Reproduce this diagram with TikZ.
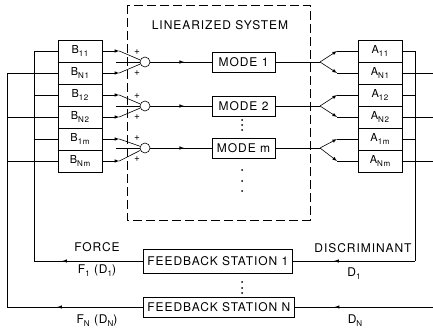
\documentclass[tikz,border=0pt]{standalone}
\usepackage{fontspec}
\newfontfamily\lettering[LetterSpace=8]{TeX Gyre Heros}
\usetikzlibrary{decorations.markings}

\newcommand{\lowidx}[1]{\raisebox{-0.5ex}{\fontsize{8}{9}\selectfont #1}}

\tikzset{
    gain/.style={draw, rectangle, minimum width=44, minimum height=22, inner sep=0pt,
        font=\lettering\fontsize{11}{12}\selectfont},
    modebox/.style={draw, rectangle, minimum width=63, minimum height=20, inner sep=0pt},
    station/.style={draw, rectangle, anchor=west, inner xsep=4pt, inner ysep=0pt},
    sumpt/.style={draw, circle, minimum size=10, inner sep=0pt},
    plus/.style={inner sep=0pt, font=\lettering\fontsize{10}{11}\selectfont},
    midarrow/.style={postaction={decorate},
        decoration={markings, mark=at position #1 with {\arrow{latex}}}}
}

\begin{document}
\begin{tikzpicture}[x=1pt, y=-1pt, line width=0.6pt,
    every node/.style={font=\lettering\fontsize{12}{14}\selectfont}]
    \useasboundingbox (0,0) rectangle (433,334);

    % linearized system
    \draw[dash pattern=on 9pt off 4pt] (127,5) rectangle (310,220);
    \node (sys) at (220,25) {LINEARIZED SYSTEM};

    \node[gain] (b11) at (80,51) {B\lowidx{11}};
    \node[gain] (bn1) at (80,73) {B\lowidx{N1}};
    \node[gain] (b12) at (80,95) {B\lowidx{12}};
    \node[gain] (bn2) at (80,117) {B\lowidx{N2}};
    \node[gain] (b1m) at (80,139) {B\lowidx{1m}};
    \node[gain] (bnm) at (80,161) {B\lowidx{Nm}};

    \node[gain] (a11) at (380,51) {A\lowidx{11}};
    \node[gain] (an1) at (380,73) {A\lowidx{N1}};
    \node[gain] (a12) at (380,95) {A\lowidx{12}};
    \node[gain] (an2) at (380,117) {A\lowidx{N2}};
    \node[gain] (a1m) at (380,139) {A\lowidx{1m}};
    \node[gain] (anm) at (380,161) {A\lowidx{Nm}};

    \node[sumpt] (s1) at (145,62) {};
    \node[sumpt] (s2) at (145,106) {};
    \node[sumpt] (sm) at (145,148) {};

    \node[plus] (p1a) at (137,52) {+};
    \node[plus] (p1b) at (137,73) {+};
    \node[plus] (p2a) at (137,96) {+};
    \node[plus] (p2b) at (137,117) {+};
    \node[plus] (pma) at (137,138) {+};
    \node[plus] (pmb) at (137,159) {+};

    \node[modebox] (m1) at (243.5,62) {MODE 1};
    \node[modebox] (m2) at (243.5,106) {MODE 2};
    \node[modebox] (mm) at (243.5,148) {MODE m};

    \fill (242,120) circle (1) (242,125) circle (1) (242,130) circle (1);
    \fill (242,170) circle (1) (242,181) circle (1) (242,191) circle (1);

    % inputs to the summing points
    \draw[-latex] (b11.east) -- ++(17,0) coordinate (t11);
    \draw[-latex] (bn1.east) -- ++(17,0) coordinate (tn1);
    \draw[-latex] (b12.east) -- ++(17,0) coordinate (t12);
    \draw[-latex] (bn2.east) -- ++(17,0) coordinate (tn2);
    \draw[-latex] (b1m.east) -- ++(17,0) coordinate (t1m);
    \draw[-latex] (bnm.east) -- ++(17,0) coordinate (tnm);
    \draw (t11) -- (s1); \draw (tn1) -- (s1);
    \draw (t12) -- (s2); \draw (tn2) -- (s2);
    \draw (t1m) -- (sm); \draw (tnm) -- (sm);
    \coordinate (k1) at (116,62);
    \coordinate (k2) at (116,106);
    \coordinate (km) at (116,148);
    \draw (k1) -- (s1.west);
    \draw (k2) -- (s2.west);
    \draw (km) -- (sm.west);

    \draw[midarrow=0.55] (s1) -- (m1);
    \draw[midarrow=0.55] (s2) -- (m2);
    \draw[midarrow=0.55] (sm) -- (mm);

    % modes to the A gains
    \coordinate (f1) at (320,62);
    \coordinate (f2) at (320,106);
    \coordinate (fm) at (320,148);
    \draw (m1) -- (f1);
    \draw (m2) -- (f2);
    \draw (mm) -- (fm);
    \draw[-latex] (f1) -- (a11.west -| 337,0) coordinate (u11);
    \draw[-latex] (f1) -- (an1.west -| 337,0) coordinate (un1);
    \draw[-latex] (f2) -- (a12.west -| 337,0) coordinate (u12);
    \draw[-latex] (f2) -- (an2.west -| 337,0) coordinate (un2);
    \draw[-latex] (fm) -- (a1m.west -| 337,0) coordinate (u1m);
    \draw[-latex] (fm) -- (anm.west -| 337,0) coordinate (unm);
    \draw (u11) -- (a11); \draw (un1) -- (an1);
    \draw (u12) -- (a12); \draw (un2) -- (an2);
    \draw (u1m) -- (a1m); \draw (unm) -- (anm);

    % feedback stations
    \node[station, minimum height=24] (fs1) at (143,261) {FEEDBACK STATION 1};
    \node[station, minimum height=20] (fsn) at (143,307) {FEEDBACK STATION N};
    \fill (242,282) circle (1) (242,288) circle (1) (242,293) circle (1);

    \coordinate (r1) at (415,261);
    \coordinate (rn) at (433,307);
    \draw (a11.east) -| (r1);
    \draw (a12.east) -- (a12.east -| r1);
    \draw (a1m.east) -- (a1m.east -| r1);
    \draw (an1.east) -- (an1.east -| rn);
    \draw (an2.east) -- (an2.east -| rn);
    \draw (anm.east) -- (anm.east -| rn);
    \draw[midarrow=0.66] (r1) -- (fs1);
    \draw[midarrow=0.71] (rn) -- (fsn);

    \coordinate (l1) at (34,261);
    \coordinate (ln) at (7,307);
    \draw[midarrow=0.74] (fs1) -- (l1);
    \draw[midarrow=0.63] (fsn) -- (ln);
    \draw (l1) |- (b11.west);
    \draw (ln) |- (bn1.west);
    \draw (b12.west -| l1) -- (b12.west);
    \draw (b1m.west -| l1) -- (b1m.west);
    \draw (bn2.west -| ln) -- (bn2.west);
    \draw (bnm.west -| ln) -- (bnm.west);

    \node (force) at (97,247) {FORCE};
    \node (f1lab) at (97,271) {F\lowidx{1} (D\lowidx{1})};
    \node (fnlab) at (97,321) {F\lowidx{N} (D\lowidx{N})};
    \node (disc) at (363,248) {DISCRIMINANT};
    \node (d1lab) at (354,274) {D\lowidx{1}};
    \node (dnlab) at (355,321) {D\lowidx{N}};
\end{tikzpicture}
\end{document}
